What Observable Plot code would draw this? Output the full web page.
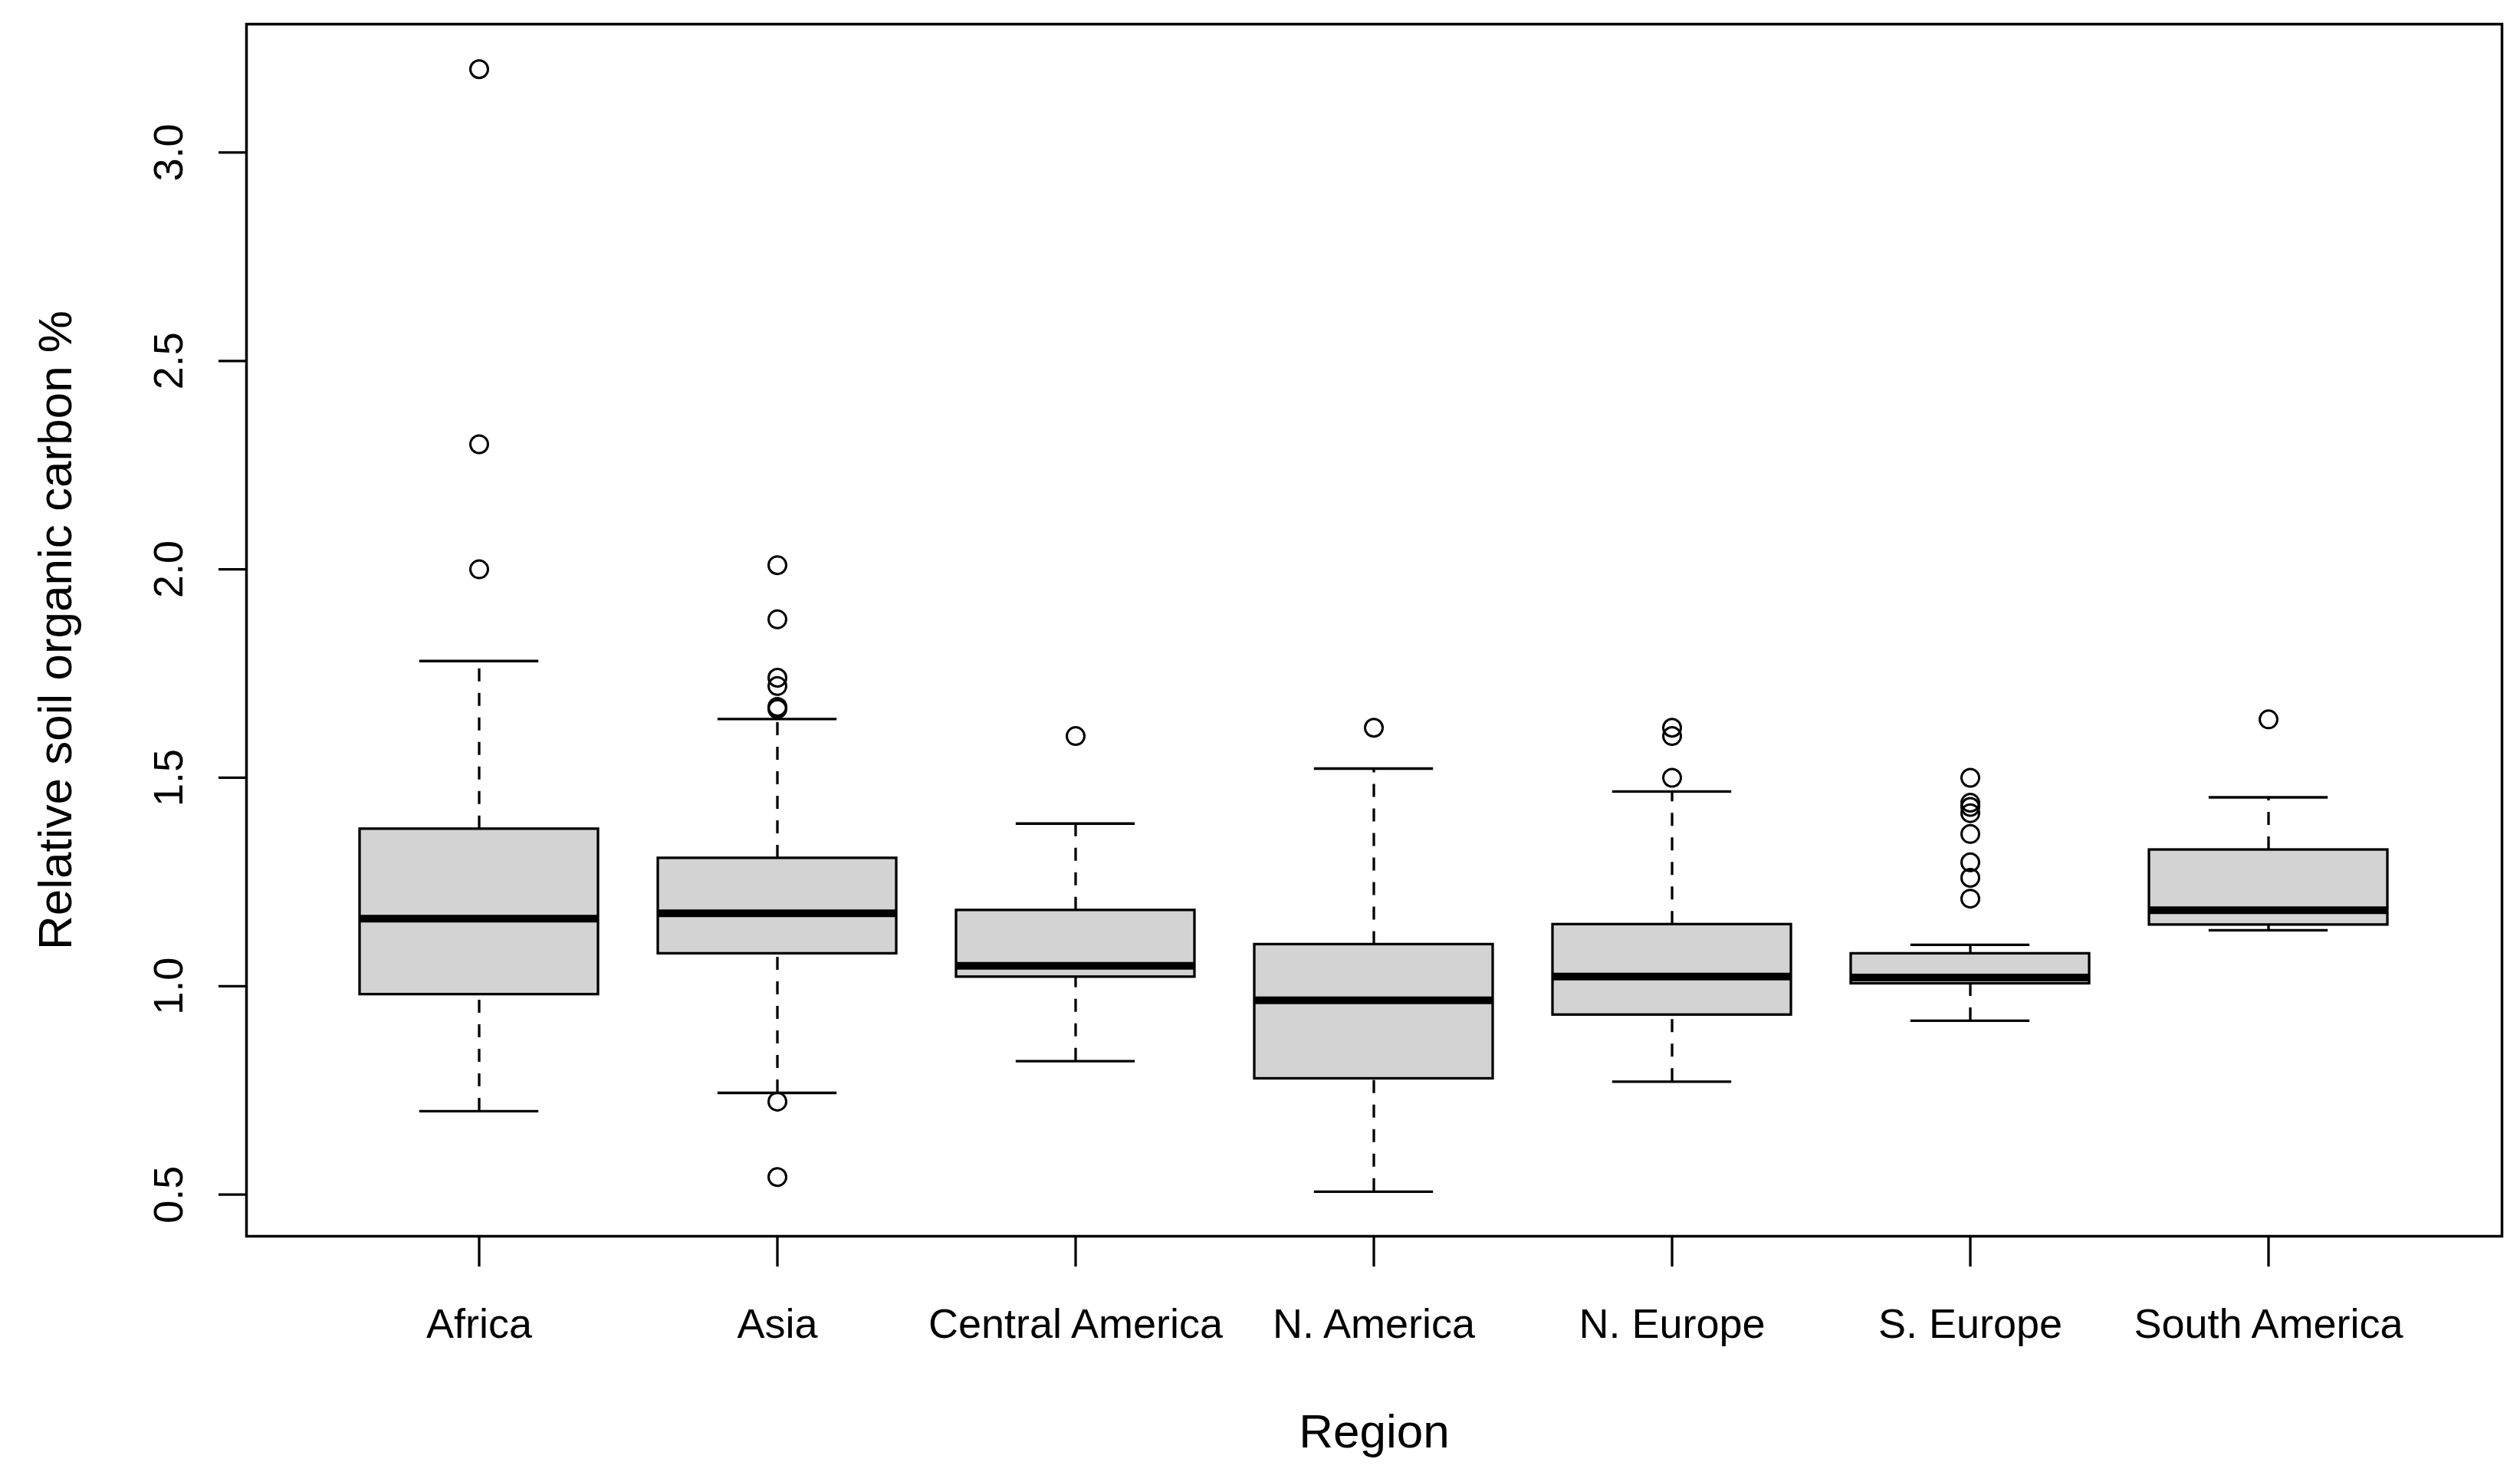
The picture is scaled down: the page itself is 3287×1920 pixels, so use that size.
<!DOCTYPE html>
<html>
<head>
<meta charset="utf-8">
<script src="https://cdn.jsdelivr.net/npm/d3@7"></script>
<script src="https://cdn.jsdelivr.net/npm/@observablehq/plot@0.6"></script>
<style>
  html, body { margin: 0; padding: 0; background: #fff; }
  #chart svg { display: block; }
</style>
</head>
<body>
<div id="chart"></div>
<script>
// ---- data ----
const regions = ["Africa", "Asia", "Central America", "N. America", "N. Europe", "S. Europe", "South America"];
const whiskerLow  = [0.700, 0.744, 0.820, 0.507, 0.771, 0.917, 1.134];
const q1          = [0.980, 1.078, 1.022, 0.778, 0.931, 1.006, 1.147];
const medians     = [1.162, 1.175, 1.049, 0.966, 1.023, 1.021, 1.182];
const q3          = [1.377, 1.307, 1.182, 1.100, 1.148, 1.078, 1.327];
const whiskerHigh = [1.780, 1.641, 1.390, 1.522, 1.467, 1.099, 1.453];
const outliersAfrica  = [2.00, 2.30, 3.20];
const outliersAsia    = [2.01, 1.88, 1.74, 1.72, 1.67, 1.665, 0.723, 0.542];
const outliersCentral = [1.60];
const outliersNAm     = [1.62];
const outliersNEu     = [1.62, 1.60, 1.50];
const outliersSEu     = [1.50, 1.44, 1.43, 1.415, 1.365, 1.297, 1.26, 1.21];
const outliersSAm     = [1.64];
const yTicks = [0.5, 1.0, 1.5, 2.0, 2.5, 3.0];
const xLabel = "Region";
const yLabel = "Relative soil organic carbon %";

// ---- tables built from the arrays ----
const boxes = regions.map((r, i) => ({region: r, lo: whiskerLow[i], q1: q1[i], med: medians[i], q3: q3[i], hi: whiskerHigh[i]}));
const outlierLists = [outliersAfrica, outliersAsia, outliersCentral, outliersNAm, outliersNEu, outliersSEu, outliersSAm];
const outliers = regions.flatMap((r, i) => outlierLists[i].map(v => ({region: r, value: v})));

const font = "'Liberation Sans', Arial, Helvetica, sans-serif";
const W = 3287, H = 1920;
const mL = 321, mR = 24, mT = 31, mB = 308;
const step = (W - mL - mR) / 7.56;

const chart = Plot.plot({
  width: W,
  height: H,
  marginLeft: mL,
  marginRight: mR,
  marginTop: mT,
  marginBottom: mB,
  style: {fontFamily: font, background: "#fff", color: "#000"},
  x: {type: "band", domain: regions, paddingInner: 0.2, paddingOuter: 0.38, align: 0.5},
  y: {domain: [0.400, 3.308]},
  marks: [
    // whiskers (dashed)
    Plot.ruleX(boxes, {x: "region", y1: "q3", y2: "hi", stroke: "#000", strokeWidth: 3.3, strokeDasharray: "17,15"}),
    Plot.ruleX(boxes, {x: "region", y1: "lo", y2: "q1", stroke: "#000", strokeWidth: 3.3, strokeDasharray: "17,15"}),
    // whisker caps
    Plot.tickY(boxes, {x: "region", y: "hi", stroke: "#000", strokeWidth: 3.3, insetLeft: 0.2 * step, insetRight: 0.2 * step}),
    Plot.tickY(boxes, {x: "region", y: "lo", stroke: "#000", strokeWidth: 3.3, insetLeft: 0.2 * step, insetRight: 0.2 * step}),
    // boxes
    Plot.barY(boxes, {x: "region", y1: "q1", y2: "q3", fill: "#d3d3d3", stroke: "#000", strokeWidth: 3.3}),
    // medians
    Plot.tickY(boxes, {x: "region", y: "med", stroke: "#000", strokeWidth: 10}),
    // outliers
    Plot.dot(outliers, {x: "region", y: "value", r: 11.5, stroke: "#000", strokeWidth: 3, fill: "none"}),
    // axes
    Plot.axisX({tickSize: 40, tickPadding: 54, fontSize: 54, strokeWidth: 3.3, label: null}),
    Plot.axisY({ticks: yTicks, tickSize: 36, strokeWidth: 3.3, tickFormat: () => "", label: null}),
    Plot.text(yTicks, {y: d => d, text: d => d.toFixed(1), frameAnchor: "left", dx: -84, rotate: -90,
      textAnchor: "middle", lineAnchor: "bottom", fontSize: 54, fill: "#000"}),
    Plot.text([yLabel], {frameAnchor: "left", dx: -229, rotate: -90, textAnchor: "middle",
      lineAnchor: "bottom", fontSize: 62, fill: "#000"}),
    Plot.text([xLabel], {frameAnchor: "bottom", dy: 275, textAnchor: "middle",
      lineAnchor: "bottom", fontSize: 62, fill: "#000"}),
    // plot frame
    Plot.frame({stroke: "#000", strokeWidth: 3.5})
  ]
});
document.getElementById("chart").appendChild(chart);
</script>
</body>
</html>
